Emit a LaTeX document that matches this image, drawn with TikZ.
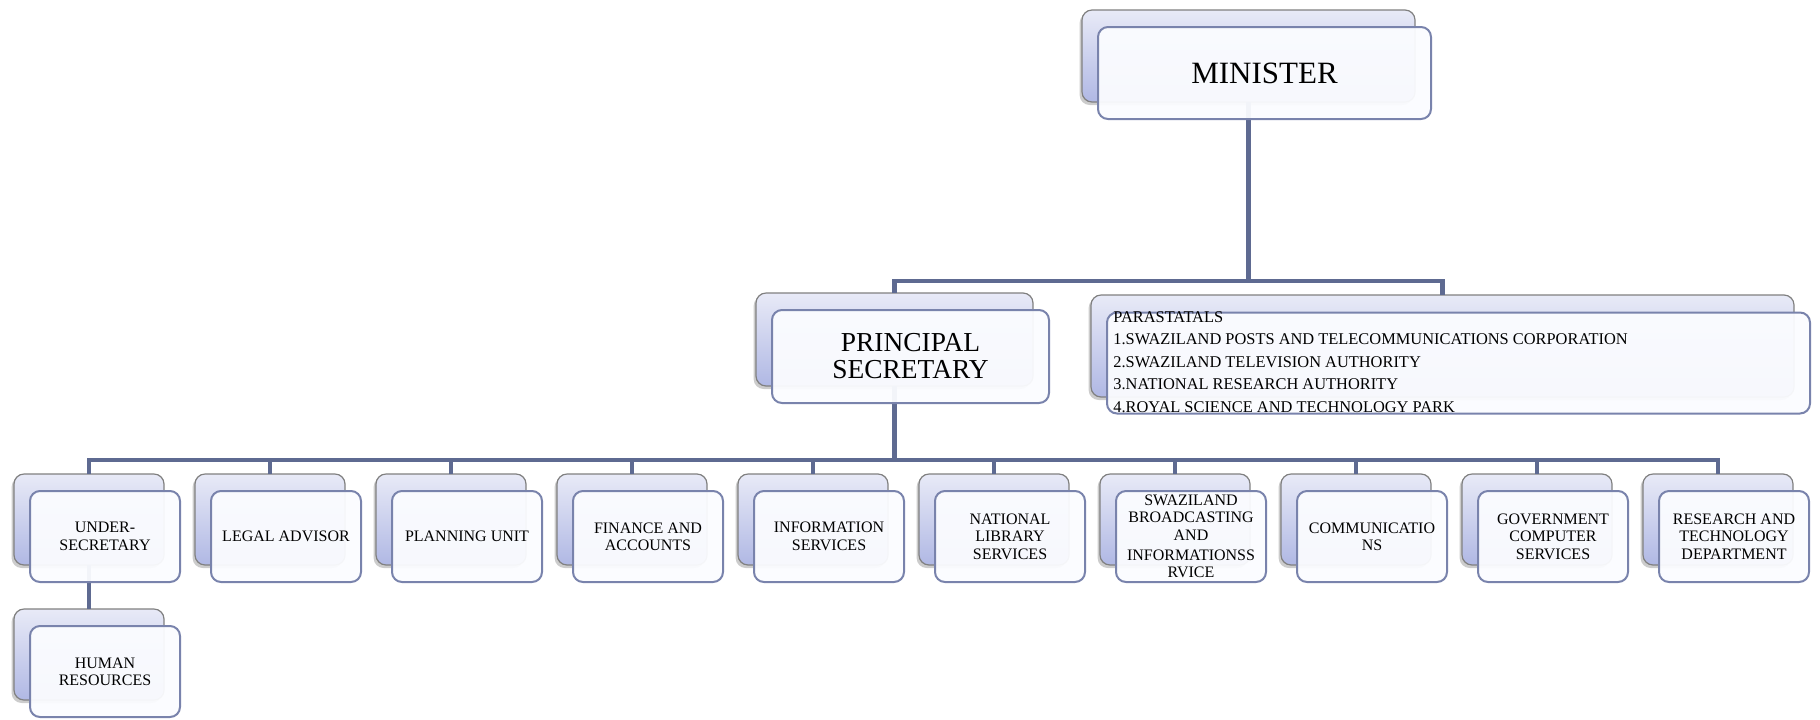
\documentclass[tikz,border=0pt]{standalone}
\usepackage{fontspec}
\setmainfont{Liberation Serif}
\usetikzlibrary{positioning,shadows}

\definecolor{linkblue}{RGB}{94,106,145}
\definecolor{frameblue}{RGB}{121,131,172}
\definecolor{backtop}{RGB}{232,234,247}
\definecolor{backbot}{RGB}{176,184,228}
\definecolor{frontfill}{RGB}{251,252,255}

\begin{document}
\begin{tikzpicture}[x=0.5pt,y=-0.5pt]
        \tikzset{back/.style={draw=gray, line width=0.6pt, rounded corners=5pt, top color=backtop, bottom color=backbot,
                   outer sep=0pt, minimum width=75pt, minimum height=45.5pt,
                   drop shadow={shadow xshift=-1.2pt, shadow yshift=-1.5pt, opacity=0.4}},
        front/.style={draw=frameblue, line width=1pt, rounded corners=5pt, fill=frontfill, fill opacity=0.95, text opacity=1,
                   outer sep=0pt, minimum width=75pt, minimum height=45.5pt, inner sep=1pt, align=center,
                   font=\fontsize{8}{8.7}\selectfont},
        ontop/.style={xshift=8pt, yshift=-8.5pt},
        link/.style={draw=linkblue, line width=2.3pt},
        }
        \useasboundingbox (0,0) rectangle (1820,719);

%% back boxes
        \node [back, minimum width=166.5pt, minimum height=46pt] (minB) at (1248.5,56) {};
        \node [back, minimum width=138.5pt, minimum height=46.5pt] (psB) at (894.5,339.5) {};
        \node [back, minimum width=351.5pt, minimum height=51pt] (parB) at (1442.5,346) {};
        \node [back] (usB) at (89,519.5) {};
        \node [back, right =15.5pt of usB] (legalB) {};
        \node [back, right =15.5pt of legalB] (planB) {};
        \node [back, right =15.5pt of planB] (finB) {};
        \node [back, right =15.5pt of finB] (infoB) {};
        \node [back, right =15.5pt of infoB] (libB) {};
        \node [back, right =15.5pt of libB] (sbisB) {};
        \node [back, right =15.5pt of sbisB] (commB) {};
        \node [back, right =15.5pt of commB] (gcsB) {};
        \node [back, right =15.5pt of gcsB] (rtdB) {};
        \node [back, below =22pt of usB] (hrB) {};

%% paths
        \coordinate [below =89.5pt of minB] (topbar);
        \coordinate [below =37pt of psB] (lowbar);
        \path[link] (minB.south) -- (topbar)
                    (topbar) -| (psB.north)
                    (topbar) -| (parB.north)
                    (psB.south) -- (lowbar)
                    (lowbar) -| (usB.north)
                    (lowbar) -| (legalB.north)
                    (lowbar) -| (planB.north)
                    (lowbar) -| (finB.north)
                    (lowbar) -| (infoB.north)
                    (lowbar) -| (libB.north)
                    (lowbar) -| (sbisB.north)
                    (lowbar) -| (commB.north)
                    (lowbar) -| (gcsB.north)
                    (lowbar) -| (rtdB.north)
                    (usB.south) -- (hrB.north);

%% front boxes
        \node [front, ontop, minimum width=166.5pt, minimum height=46pt, font=\fontsize{15.5}{18}\selectfont] (min) at (minB) {MINISTER};
        \node [front, ontop, minimum width=138.5pt, minimum height=46.5pt, font=\fontsize{13.7}{13.5}\selectfont] (ps) at (psB) {PRINCIPAL\\SECRETARY};
        \node [front, ontop, minimum width=351.5pt, minimum height=50.5pt] (par) at (parB) {};
        \node [anchor=north west, inner sep=0pt, align=left, font=\fontsize{8.2}{11.25}\selectfont] (parText)
              at ([xshift=3pt,yshift=0.8pt]par.north west)
              {PARASTATALS\\1.SWAZILAND POSTS AND TELECOMMUNICATIONS CORPORATION\\2.SWAZILAND TELEVISION AUTHORITY\\3.NATIONAL RESEARCH AUTHORITY\\4.ROYAL SCIENCE AND TECHNOLOGY PARK};
        \node [front, ontop] (us) at (usB) {UNDER-\\SECRETARY};
        \node [front, ontop] (legal) at (legalB) {LEGAL ADVISOR};
        \node [front, ontop] (plan) at (planB) {PLANNING UNIT};
        \node [front, ontop] (fin) at (finB) {FINANCE AND\\ACCOUNTS};
        \node [front, ontop] (info) at (infoB) {INFORMATION\\SERVICES};
        \node [front, ontop] (lib) at (libB) {NATIONAL\\LIBRARY\\SERVICES};
        \node [front, ontop] (sbis) at (sbisB) {SWAZILAND\\BROADCASTING\\AND\\[1.5pt]INFORMATIONSS\\RVICE};
        \node [front, ontop] (comm) at (commB) {COMMUNICATIO\\NS};
        \node [front, ontop] (gcs) at (gcsB) {GOVERNMENT\\COMPUTER\\SERVICES};
        \node [front, ontop] (rtd) at (rtdB) {RESEARCH AND\\TECHNOLOGY\\DEPARTMENT};
        \node [front, ontop] (hr) at (hrB) {HUMAN\\RESOURCES};
    \end{tikzpicture}
\end{document}
